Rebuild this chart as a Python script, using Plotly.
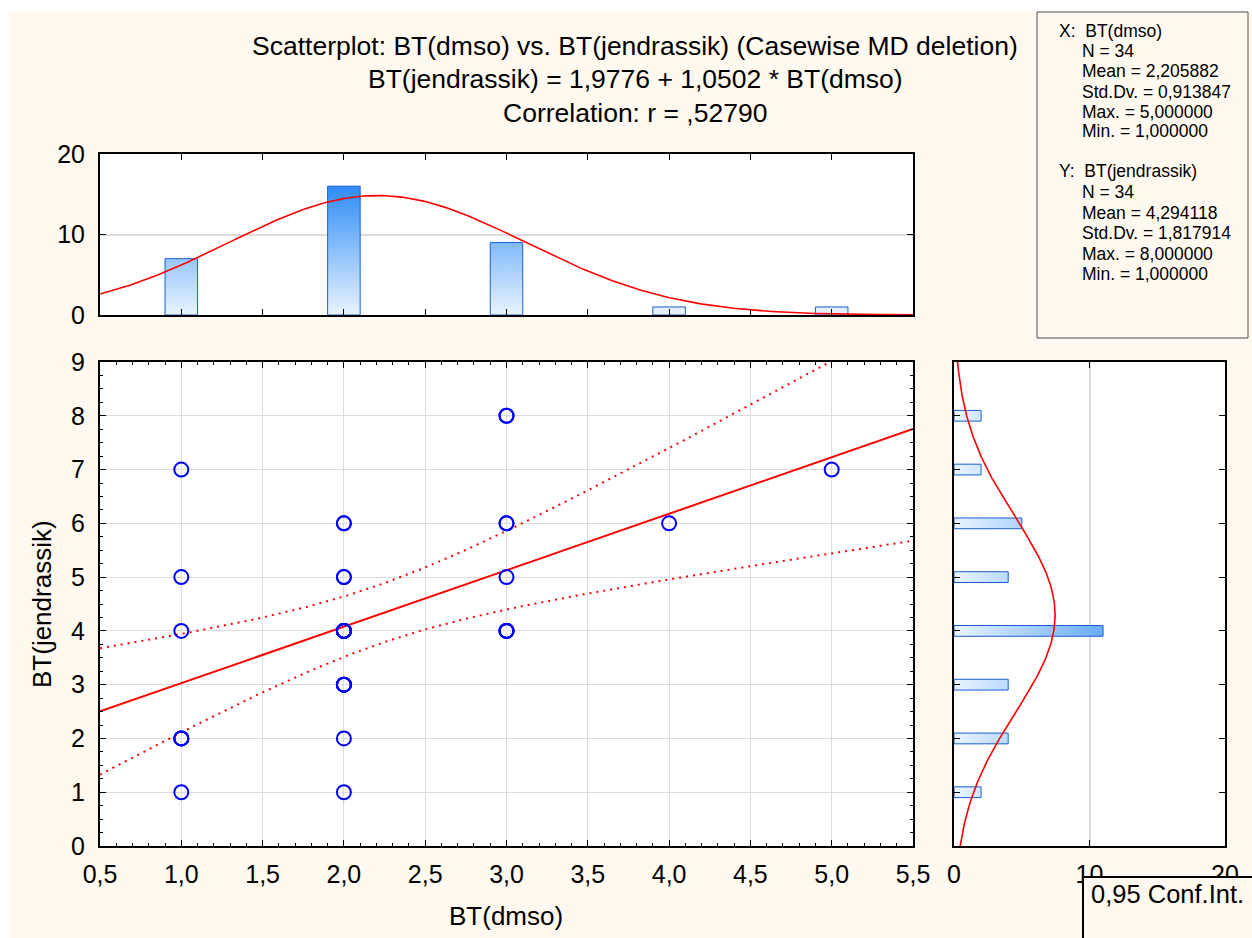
import numpy as np
import plotly.graph_objects as go

W, H = 1252, 938

# ---------------- data ----------------
x_data = [1, 1, 1, 1, 1, 1, 1,
          2, 2, 2, 2, 2, 2, 2, 2, 2, 2, 2, 2, 2, 2, 2, 2,
          3, 3, 3, 3, 3, 3, 3, 3, 3,
          4, 5]
y_data = [7, 5, 4, 2, 2, 2, 1,
          6, 6, 5, 5, 4, 4, 4, 4, 4, 4, 3, 3, 3, 3, 2, 1,
          8, 8, 6, 6, 5, 4, 4, 4, 4,
          6, 7]

x_bins = [1, 2, 3, 4, 5]
x_counts = [7, 16, 9, 1, 1]
y_bins = [1, 2, 3, 4, 5, 6, 7, 8]
y_counts = [2, 4, 4, 11, 4, 5, 2, 2]

x_mean, x_sd = 2.205882, 0.913847
y_mean, y_sd = 4.294118, 1.817914
n_obs = 34
intercept, slope = 1.9776, 1.0502
t_crit = 2.0369  # t(0.975, 32)

title_lines = ["Scatterplot: BT(dmso) vs. BT(jendrassik) (Casewise MD deletion)",
               "BT(jendrassik) = 1,9776 + 1,0502 * BT(dmso)",
               "Correlation: r = ,52790"]
stats_x = ["N = 34", "Mean = 2,205882", "Std.Dv. = 0,913847", "Max. = 5,000000", "Min. = 1,000000"]
stats_y = ["N = 34", "Mean = 4,294118", "Std.Dv. = 1,817914", "Max. = 8,000000", "Min. = 1,000000"]

CREAM = "#FFF9EF"
FONT = "Liberation Sans, Arial, sans-serif"


def fx(px):
    return px / W


def fy(py):
    return 1 - py / H


# ---------------- fitted curves ----------------
xa = np.array(x_data, float)
ya = np.array(y_data, float)
resid = ya - (intercept + slope * xa)
s_err = np.sqrt(np.sum(resid ** 2) / (len(xa) - 2))
sxx = np.sum((xa - xa.mean()) ** 2)

xs = np.linspace(0.5, 5.5, 300)
yhat = intercept + slope * xs
half = t_crit * s_err * np.sqrt(1 / len(xa) + (xs - xa.mean()) ** 2 / sxx)


def npdf(v, m, s):
    return np.exp(-0.5 * ((v - m) / s) ** 2) / (s * np.sqrt(2 * np.pi))


top_curve = n_obs * 1.0 * npdf(xs, x_mean, x_sd)
ys = np.linspace(0, 9, 300)
right_curve = n_obs * 1.0 * npdf(ys, y_mean, y_sd)

fig = go.Figure()

# ---------------- scatter panel ----------------
fig.add_trace(go.Scatter(x=xs, y=yhat + half, mode="lines", xaxis="x", yaxis="y",
                         line=dict(color="#FF0000", width=2, dash="2px,5px")))
fig.add_trace(go.Scatter(x=xs, y=yhat - half, mode="lines", xaxis="x", yaxis="y",
                         line=dict(color="#FF0000", width=2, dash="2px,5px")))
fig.add_trace(go.Scatter(x=xs, y=yhat, mode="lines", xaxis="x", yaxis="y",
                         line=dict(color="#FF0000", width=2)))
fig.add_trace(go.Scatter(x=x_data, y=y_data, mode="markers", xaxis="x", yaxis="y",
                         marker=dict(symbol="circle-open", size=14, color="#0000FF",
                                     line=dict(width=2, color="#0000FF"))))

# ---------------- top histogram ----------------
bw = 0.2
for c, h in zip(x_bins, x_counts):
    fig.add_trace(go.Scatter(
        x=[c - bw / 2, c - bw / 2, c + bw / 2, c + bw / 2, c - bw / 2],
        y=[0, h, h, 0, 0], mode="lines", fill="toself", xaxis="x2", yaxis="y2",
        line=dict(color="#1A5FD6", width=1),
        fillgradient=dict(type="vertical", start=0, stop=16,
                          colorscale=[[0, "#EAF4FF"], [1, "#2E8CF6"]])))
fig.add_trace(go.Scatter(x=xs, y=top_curve, mode="lines", xaxis="x2", yaxis="y2",
                         line=dict(color="#FF0000", width=1.6)))

# ---------------- right histogram ----------------
bh = 0.2
for c, h in zip(y_bins, y_counts):
    fig.add_trace(go.Scatter(
        x=[0, h, h, 0, 0],
        y=[c - bh / 2, c - bh / 2, c + bh / 2, c + bh / 2, c - bh / 2],
        mode="lines", fill="toself", xaxis="x3", yaxis="y3",
        line=dict(color="#1A5FD6", width=1),
        fillgradient=dict(type="horizontal", start=0, stop=16,
                          colorscale=[[0, "#EAF4FF"], [1, "#2E8CF6"]])))
fig.add_trace(go.Scatter(x=right_curve, y=ys, mode="lines", xaxis="x3", yaxis="y3",
                         line=dict(color="#FF0000", width=1.6)))

TICKFONT = dict(family=FONT, size=25, color="black")
common = dict(showline=True, linewidth=2, linecolor="black", mirror="allticks",
              ticks="inside", tickcolor="black", tickwidth=1, zeroline=False,
              automargin=False, tickfont=TICKFONT)

fig.update_layout(
    width=W, height=H, template="none",
    margin=dict(l=0, r=0, t=0, b=0, pad=0),
    paper_bgcolor=CREAM, plot_bgcolor="white",
    separators=",.",
    showlegend=False,
    font=dict(family=FONT, color="black"),
    xaxis=dict(domain=[fx(100), fx(913)], range=[0.5, 5.5], anchor="y",
               tick0=0.5, dtick=0.5, tickformat=".1f", ticklen=6,
               showgrid=True, gridcolor="#DCDCDC", gridwidth=1,
               ticklabelstandoff=5,
               minor=dict(dtick=0.1, tick0=0.5, ticks="inside", ticklen=3,
                          tickcolor="black", showgrid=False), **common),
    yaxis=dict(domain=[fy(846), fy(362)], range=[0, 9], anchor="x",
               tick0=0, dtick=1, tickformat="d", ticklen=6,
               showgrid=True, gridcolor="#DCDCDC", gridwidth=1,
               ticklabelstandoff=8,
               minor=dict(dtick=0.25, tick0=0, ticks="inside", ticklen=3,
                          tickcolor="black", showgrid=False), **common),
    xaxis2=dict(domain=[fx(100), fx(913)], range=[0.5, 5.5], anchor="y2",
                tick0=0.5, dtick=0.5, ticklen=6, showticklabels=False,
                showgrid=False, **common),
    yaxis2=dict(domain=[fy(315), fy(154)], range=[0, 20], anchor="x2",
                tickvals=[0, 10, 20], ticklen=6, ticklabelstandoff=8,
                showgrid=True, gridcolor="#DCDCDC", gridwidth=2, **common),
    xaxis3=dict(domain=[fx(954), fx(1225)], range=[0, 20], anchor="y3",
                tickvals=[0, 10, 20], ticklen=6, ticklabelstandoff=5,
                showgrid=True, gridcolor="#DCDCDC", gridwidth=2, **common),
    yaxis3=dict(domain=[fy(846), fy(362)], range=[0, 9], anchor="x3",
                tick0=0, dtick=1, ticklen=6, showticklabels=False,
                showgrid=False, **common),
)

shapes = [
    # white outer border (top / left)
    dict(type="rect", xref="paper", yref="paper", x0=0, x1=1, y0=fy(11), y1=1,
         fillcolor="white", line=dict(width=0), layer="below"),
    dict(type="rect", xref="paper", yref="paper", x0=0, x1=fx(9), y0=0, y1=1,
         fillcolor="white", line=dict(width=0), layer="below"),
    # statistics box
    dict(type="rect", xref="paper", yref="paper", x0=fx(1037), x1=fx(1248),
         y0=fy(338), y1=fy(12), fillcolor=CREAM, line=dict(color="#505050", width=1),
         layer="above"),
    # confidence legend box
    dict(type="rect", xref="paper", yref="paper", x0=fx(1083), x1=fx(1262),
         y0=fy(950), y1=fy(877), fillcolor=CREAM, line=dict(color="black", width=2),
         layer="above"),
]
fig.update_layout(shapes=shapes)

ann = []
for txt, py in zip(title_lines, [46, 79, 113]):
    ann.append(dict(text=txt, x=fx(635), y=fy(py), xref="paper", yref="paper",
                    xanchor="center", yanchor="middle", showarrow=False,
                    font=dict(family=FONT, size=26.5, color="black")))
ann.append(dict(text="BT(dmso)", x=fx(506), y=fy(916), xref="paper", yref="paper",
                xanchor="center", yanchor="middle", showarrow=False,
                font=dict(family=FONT, size=26, color="black")))
ann.append(dict(text="BT(jendrassik)", x=fx(42), y=fy(604), xref="paper", yref="paper",
                xanchor="center", yanchor="middle", showarrow=False, textangle=-90,
                font=dict(family=FONT, size=26, color="black")))

SFONT = dict(family=FONT, size=17.5, color="black")
ann.append(dict(text="X:  BT(dmso)", x=fx(1057), y=fy(31), xref="paper", yref="paper",
                xanchor="left", yanchor="middle", showarrow=False, font=SFONT))
for txt, py in zip(stats_x, [51, 71, 92, 112, 131]):
    ann.append(dict(text=txt, x=fx(1080), y=fy(py), xref="paper", yref="paper",
                    xanchor="left", yanchor="middle", showarrow=False, font=SFONT))
ann.append(dict(text="Y:  BT(jendrassik)", x=fx(1057), y=fy(171), xref="paper", yref="paper",
                xanchor="left", yanchor="middle", showarrow=False, font=SFONT))
for txt, py in zip(stats_y, [192, 213, 233, 254, 274]):
    ann.append(dict(text=txt, x=fx(1080), y=fy(py), xref="paper", yref="paper",
                    xanchor="left", yanchor="middle", showarrow=False, font=SFONT))
ann.append(dict(text="0,95 Conf.Int.", x=fx(1089), y=fy(894), xref="paper", yref="paper",
                xanchor="left", yanchor="middle", showarrow=False,
                font=dict(family=FONT, size=25.5, color="black")))
fig.update_layout(annotations=ann)

fig.write_html("out.html")
